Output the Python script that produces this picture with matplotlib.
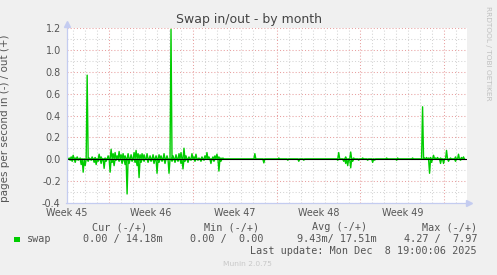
import matplotlib
matplotlib.use("Agg")
import matplotlib.pyplot as plt
from matplotlib.lines import Line2D
from matplotlib.patches import Rectangle
import numpy as np

# munin "swap" month graph, 2 hour bins (400 bins = 33.3 days)
n_bins = 400
n_valid = 398
bin_days = 1.0 / 12
t_start = 3.558  # days since Monday of week 45

# pages/s swapped out (+), bin index -> value
out_bins = [1, 3, 5, 7, 9, 12, 19, 21, 24, 27, 31, 33, 37, 40, 43, 45, 47, 49, 51, 53,
            55, 57, 60, 63, 66, 68, 70, 72, 74, 76, 79, 82, 85, 88, 91, 93, 96, 99, 103, 105,
            108, 111, 113, 116, 118, 121, 124, 126, 128, 131, 134, 137, 139, 141, 145, 147,
            149, 151, 153, 155, 187, 211, 271, 278, 283, 286, 295, 319, 330, 345, 355,
            357, 359, 361, 363, 366, 368, 370, 373, 379, 383, 388, 391, 394, 396]
out_vals = [0.01, 0.02, 0.035, 0.01, 0.02, 0.01, 0.77, 0.01, 0.02, 0.015, 0.045, 0.02, 0.01,
            0.03, 0.09, 0.05, 0.06, 0.03, 0.07, 0.04, 0.05, 0.03, 0.05, 0.04, 0.06, 0.08, 0.05,
            0.04, 0.05, 0.04, 0.05, 0.03, 0.04, 0.03, 0.04, 0.03, 0.05, 0.03, 1.19, 0.03, 0.04,
            0.05, 0.06, 0.10, 0.03, 0.02, 0.05, 0.02, 0.045, 0.01, 0.02, 0.03, 0.06, 0.02, 0.02,
            0.03, 0.045, 0.02, 0.01, 0.01, 0.05, 0.01, 0.06, 0.02, 0.065, 0.01, 0.01, 0.01,
            0.01, 0.01, 0.48, 0.01, 0.015, 0.01, 0.015, 0.035, 0.01, 0.015, 0.01, 0.08, 0.01,
            0.02, 0.045, 0.015, 0.02]

# pages/s swapped in (-), bin index -> value
in_bins = [2, 4, 7, 10, 13, 15, 17, 20, 23, 26, 28, 30, 33, 36, 38, 42, 44, 46, 48, 51, 54,
           57, 59, 61, 64, 67, 69, 71, 73, 76, 80, 83, 86, 89, 91, 94, 97, 101, 104, 107, 110,
           113, 115, 117, 120, 123, 127, 130, 133, 136, 143, 146, 151, 153, 196, 220, 231, 236,
           270, 276, 278, 280, 283, 285, 291, 300, 305, 307, 329, 362, 364, 373, 376, 381,
           388, 393]
in_vals = [0.01, 0.02, 0.03, 0.01, 0.05, 0.12, 0.06, 0.02, 0.01, 0.03, 0.05, 0.02, 0.04, 0.085,
           0.02, 0.12, 0.03, 0.06, 0.01, 0.02, 0.04, 0.05, 0.32, 0.04, 0.02, 0.03, 0.06, 0.17,
           0.03, 0.02, 0.03, 0.02, 0.04, 0.13, 0.03, 0.02, 0.04, 0.13, 0.02, 0.03, 0.02, 0.04,
           0.09, 0.02, 0.03, 0.01, 0.02, 0.01, 0.02, 0.01, 0.04, 0.02, 0.11, 0.02, 0.035, 0.01,
           0.02, 0.01, 0.01, 0.02, 0.04, 0.06, 0.08, 0.02, 0.01, 0.01, 0.03, 0.01, 0.01, 0.13,
           0.03, 0.04, 0.04, 0.02, 0.02, 0.01]

week_labels = ["Week 45", "Week 46", "Week 47", "Week 48", "Week 49"]
week_starts = [7, 14, 21, 28, 35]
y_ticks = [-0.4, -0.2, 0.0, 0.2, 0.4, 0.6, 0.8, 1.0, 1.2]

legend_head = ["Cur (-/+)", "Min (-/+)", "Avg (-/+)", "Max (-/+)"]
legend_vals = ["0.00 / 14.18m", "0.00 /  0.00", "9.43m/ 17.51m", "4.27 /  7.97"]

W, H = 497, 275
green = "#00CC00"
red_grid = "#E8A0A0"
gray_grid = "#D4D4D4"
axis_col = "#C4CCF0"
txt = "#555555"

out_rate = np.zeros(n_bins)
in_rate = np.zeros(n_bins)
out_rate[out_bins] = out_vals
in_rate[in_bins] = in_vals
out_rate[n_valid:] = np.nan
in_rate[n_valid:] = np.nan
t = t_start + (np.arange(n_bins) + 0.5) * bin_days
x0, x1 = t_start, t_start + n_bins * bin_days

fig = plt.figure(figsize=(W / 100, H / 100), dpi=100, facecolor="#F0F0F0")
ax = fig.add_axes([67 / W, (H - 202.7) / H, 400 / W, 174.4 / H])
ax.set_facecolor("white")
ax.set_xlim(x0, x1)
ax.set_ylim(-0.4, 1.2)
for s in ax.spines.values():
    s.set_visible(False)

dots = (0, (1, 2))
for d in range(4, 37):
    if d not in week_starts:
        ax.axvline(d, color=gray_grid, lw=0.75, ls=dots, zorder=1)
for v in np.arange(-0.3, 1.2, 0.2):
    ax.axhline(v, color=gray_grid, lw=0.75, ls=dots, zorder=1)
for d in week_starts:
    ax.axvline(d, color=red_grid, lw=0.75, ls=dots, zorder=1.5)
for v in y_ticks:
    ax.axhline(v, color=red_grid, lw=0.75, ls=dots, zorder=1.5)

ax.plot(t, out_rate, color=green, lw=1.0, zorder=3)
ax.plot(t, -in_rate, color=green, lw=1.0, zorder=3)
ax.axhline(0, color="black", lw=0.8, zorder=4)

ax.set_yticks(y_ticks, [f"{v:.1f}" for v in y_ticks])
ax.set_xticks([d - 3.5 for d in week_starts], week_labels)
ax.tick_params(length=0, labelsize=6.9, colors=txt)
ax.tick_params(axis="y", pad=4.5)
ax.tick_params(axis="x", pad=4)
for lab in ax.get_xticklabels():
    lab.set_clip_on(False)
ax.set_ylabel("pages per second in (-) / out (+)", fontsize=7.5, color=txt)
ax.yaxis.set_label_coords(-57 / 400, 0.486)

# rrdtool style axes with arrows
def fx(px):
    return px / W

def fy(py):
    return 1 - py / H

fig.add_artist(Line2D([fx(67), fx(67)], [fy(203), fy(24)], color=axis_col, lw=0.9))
fig.add_artist(Line2D([fx(66), fx(469)], [fy(203), fy(203)], color=axis_col, lw=0.9))
fig.add_artist(Line2D([fx(67)], [fy(24)], marker="^", ms=4, color=axis_col, lw=0))
fig.add_artist(Line2D([fx(469)], [fy(203)], marker=">", ms=4, color=axis_col, lw=0))

fig.text(fx(248.5), fy(20), "Swap in/out - by month", fontsize=9, color="#444444",
         ha="center", va="center")
fig.text(fx(488), fy(53), "RRDTOOL / TOBI OETIKER", fontsize=5.3, color="#C0C0C0",
         rotation=270, ha="center", va="center")

mono = "DejaVu Sans Mono"
head_right = [147, 259, 367, 477]
val_right = [163, 263, 377, 477]
for h, xr in zip(legend_head, head_right):
    fig.text(fx(xr), fy(227.5), h, family=mono, fontsize=7.3, color=txt, ha="right", va="center")
for v, xr in zip(legend_vals, val_right):
    fig.text(fx(xr), fy(239.3), v, family=mono, fontsize=7.3, color=txt, ha="right", va="center")
fig.add_artist(Rectangle((fx(14), fy(242.3)), 5.5 / W, 5.5 / H, transform=fig.transFigure,
                         facecolor=green, edgecolor="none"))
fig.text(fx(27), fy(239.3), "swap", family=mono, fontsize=7.3, color=txt, ha="left", va="center")
fig.text(fx(477), fy(251), "Last update: Mon Dec  8 19:00:06 2025", family=mono, fontsize=7.3,
         color=txt, ha="right", va="center")
fig.text(fx(247.5), fy(264.5), "Munin 2.0.75", fontsize=5.4, color="#C8C8C8",
         ha="center", va="center")

fig.savefig("out.png", dpi=100, facecolor=fig.get_facecolor())
